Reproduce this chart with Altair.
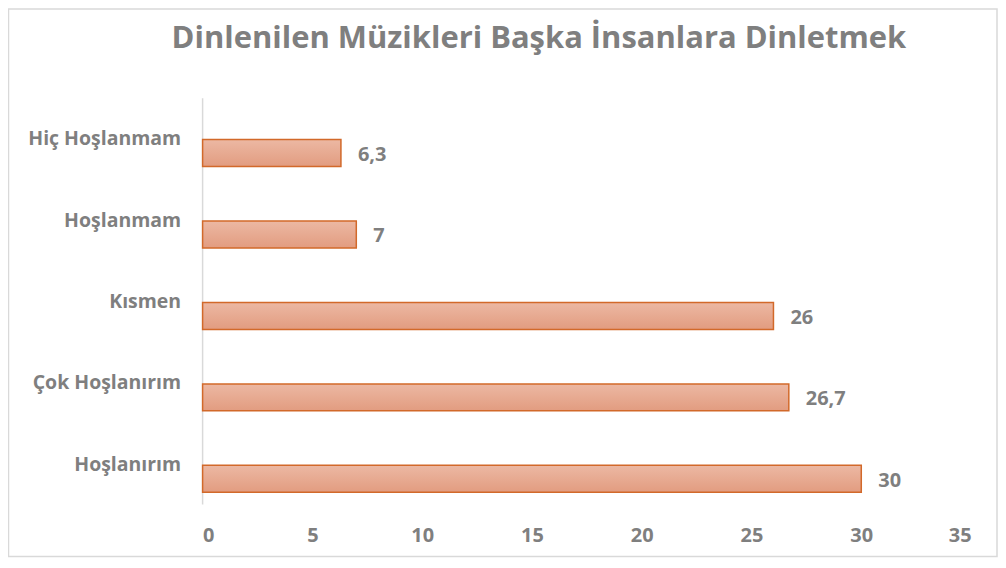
import altair as alt
import pandas as pd

categories = ["Hiç Hoşlanmam", "Hoşlanmam", "Kısmen", "Çok Hoşlanırım", "Hoşlanırım"]
values = [6.3, 7, 26, 26.7, 30]
value_labels = ["6,3", "7", "26", "26,7", "30"]
x_ticks = [0, 5, 10, 15, 20, 25, 30, 35]
title_text = "Dinlenilen Müzikleri Başka İnsanlara Dinletmek"

df = pd.DataFrame({"cat": categories, "value": values, "label": value_labels})

FONT = "Open Sans"
GRAY = "#7f7f7f"

grad = alt.Gradient(
    gradient="linear",
    stops=[alt.GradientStop(color="#ecb8a3", offset=0),
           alt.GradientStop(color="#e29c80", offset=1)],
    x1=0, x2=0, y1=0, y2=1,
)

y_enc = alt.Y("cat:N", sort=categories, title=None,
              scale=alt.Scale(paddingInner=0.0, paddingOuter=0.0),
              axis=alt.Axis(domain=False, ticks=False, labelFont=FONT, labelFontSize=19.5,
                            labelFontWeight="bold", labelColor=GRAY, labelPadding=22,
                            labelOffset=-14))
x_enc = alt.X("value:Q", title=None, scale=alt.Scale(domain=[0, 35], nice=False),
              axis=alt.Axis(values=x_ticks, grid=False, domain=False, ticks=False,
                            labelFont=FONT, labelFontSize=20, labelFontWeight="bold",
                            labelColor=GRAY, labelPadding=6, format="d"))

base = alt.Chart(df)

bars = base.mark_bar(size=27, fill=grad, stroke="#d2692a", strokeWidth=1.5).encode(
    y=y_enc, x=x_enc)

texts = base.mark_text(align="left", baseline="middle", dx=17, dy=2, font=FONT,
                       fontSize=20, fontWeight="bold", color=GRAY).encode(
    y=alt.Y("cat:N", sort=categories), x=alt.X("value:Q"), text="label:N")

one = pd.DataFrame({"t": [title_text]})

axis_line = alt.Chart(one).mark_rule(color="#d9d9d9", strokeWidth=1.5).encode(
    x=alt.value(0), y=alt.value(-14), y2=alt.value(393))

border = alt.Chart(one).mark_rect(fillOpacity=0, stroke="#d9d9d9", strokeWidth=1.5).encode(
    x=alt.value(-194.5), x2=alt.value(796), y=alt.value(-103.5), y2=alt.value(445))

title = alt.Chart(one).mark_text(align="center", baseline="alphabetic", font=FONT,
                                 fontSize=31, fontWeight="bold", color=GRAY).encode(
    x=alt.value(337), y=alt.value(-64), text="t:N")

chart = alt.layer(border, axis_line, bars, texts, title).properties(
    width=770, height=408,
    autosize=alt.AutoSizeParams(type="none"),
    padding={"left": 195, "top": 104, "right": 27, "bottom": 38},
).configure(background="white").configure_view(strokeWidth=0, stroke="transparent")

chart.save("out.html", embed_options={"renderer": "svg", "actions": False})
